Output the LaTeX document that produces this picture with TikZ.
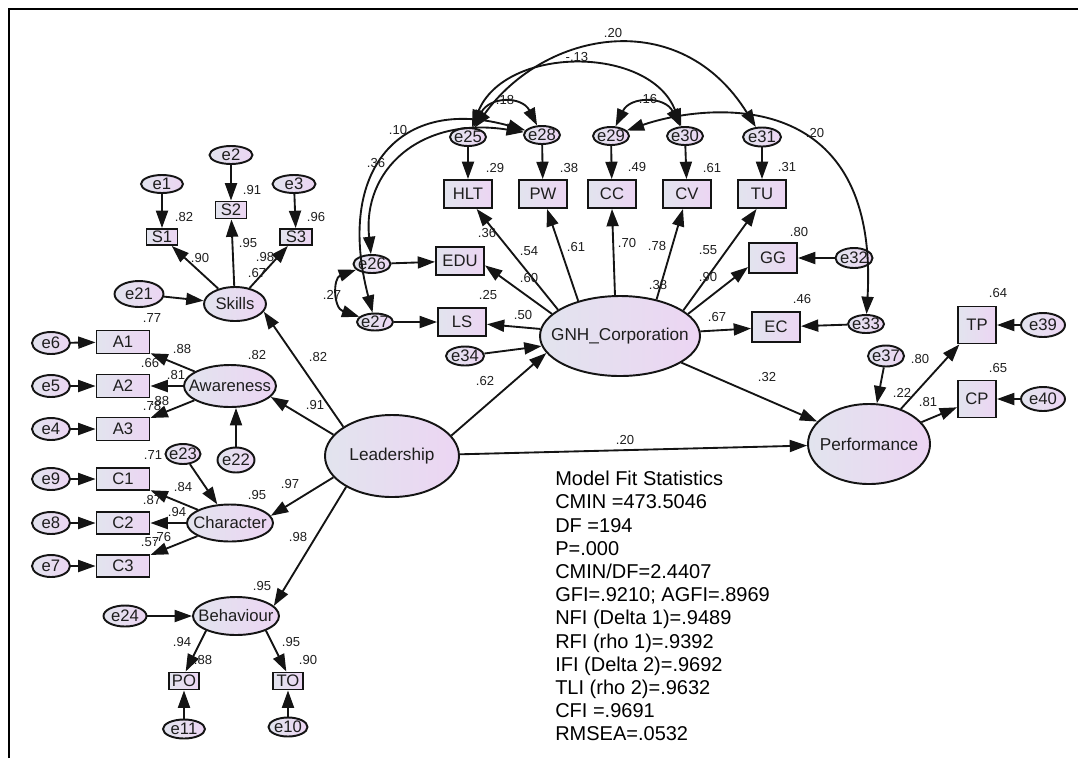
\documentclass[tikz,border=0pt]{standalone}
\usepackage{fontspec}
\setmainfont{Liberation Sans}
\usetikzlibrary{arrows.meta,shapes.geometric}
\definecolor{fa}{RGB}{226,228,238}
\definecolor{fb}{RGB}{236,213,243}
\definecolor{bd}{RGB}{20,20,20}
\definecolor{tx}{RGB}{30,30,30}
\newcommand{\cz}[1]{\makebox[0pt]{#1}}
\begin{document}
\begin{tikzpicture}[x=0.75pt,y=-0.75pt,
 every node/.style={inner sep=0pt},
 sz/.style 2 args={minimum width=#1*0.75pt, minimum height=#2*0.75pt},
 base/.style={draw=bd, line width=1.45pt, left color=fa, right color=fb, text=tx, font=\fontsize{12.5}{14}\selectfont},
 lat/.style={base, ellipse},
 obs/.style={base, rectangle},
 lb/.style={font=\fontsize{9.8}{11}\selectfont, text=tx},
 arr/.style={draw=bd, line width=1.4pt, -{Triangle[length=13pt,width=9pt]}},
 cov/.style={draw=bd, line width=1.4pt, {Triangle[length=13pt,width=9pt]}-{Triangle[length=13pt,width=9pt]}},
]
\useasboundingbox (0,0) rectangle (1078,758);
\draw[line width=1pt] (9,758) -- (9,9) -- (1078,9);

% ---------- Skills ----------
\node[lat,sz={42}{18}] (e1) at (162,184) {\cz{e1}};
\node[lat,sz={43}{18}] (e2) at (231,155) {\cz{e2}};
\node[lat,sz={43}{18}] (e3) at (294,184) {\cz{e3}};
\node[obs,sz={31}{16}] (S1) at (162,237) {S1};
\node[obs,sz={31}{17}] (S2) at (231,210) {S2};
\node[obs,sz={32}{16}] (S3) at (296,237) {S3};
\node[lat,sz={62}{34}] (Skills) at (235,304) {\cz{Skills}};
\node[lat,sz={49}{26}] (e21) at (139,294) {\cz{e21}};

% ---------- Awareness ----------
\node[lat,sz={38}{22}] (e6) at (51,343) {\cz{e6}};
\node[lat,sz={38}{22}] (e5) at (51,386) {\cz{e5}};
\node[lat,sz={38}{22}] (e4) at (51,429) {\cz{e4}};
\node[obs,sz={53}{23}] (A1) at (123,342) {A1};
\node[obs,sz={53}{23}] (A2) at (123,386) {A2};
\node[obs,sz={53}{23}] (A3) at (123,429) {A3};
\node[lat,sz={92}{42}] (Awareness) at (230,386) {\cz{Awareness}};
\node[lat,sz={37}{25}] (e22) at (236,460) {\cz{e22}};

% ---------- Character ----------
\node[lat,sz={35}{20}] (e23) at (183,454) {\cz{e23}};
\node[lat,sz={38}{22}] (e9) at (51,479) {\cz{e9}};
\node[lat,sz={38}{22}] (e8) at (51,523) {\cz{e8}};
\node[lat,sz={38}{22}] (e7) at (51,566) {\cz{e7}};
\node[obs,sz={53}{22}] (C1) at (123,479) {C1};
\node[obs,sz={53}{22}] (C2) at (123,523) {C2};
\node[obs,sz={53}{22}] (C3) at (123,566) {C3};
\node[lat,sz={86}{37}] (Character) at (230,523) {\cz{Character}};

% ---------- Behaviour ----------
\node[lat,sz={86}{38}] (Behaviour) at (236,616) {\cz{Behaviour}};
\node[lat,sz={43}{21}] (e24) at (125,616) {\cz{e24}};
\node[obs,sz={30}{17}] (PO) at (184,681) {PO};
\node[obs,sz={30}{17}] (TO) at (288,681) {TO};
\node[lat,sz={42}{19}] (e11) at (184,729) {\cz{e11}};
\node[lat,sz={39}{19}] (e10) at (288,727) {\cz{e10}};

% ---------- Leadership ----------
\node[lat,sz={134}{82},font=\fontsize{12.9}{15}\selectfont] (Leadership) at (392,456) {\cz{Leadership}};

% ---------- GNH ----------
\node[lat,sz={160}{80},font=\fontsize{12.9}{15}\selectfont] (GNH) at (620,336) {\cz{GNH\_Corporation}};
\node[obs,sz={48}{28}] (HLT) at (468,194) {HLT};
\node[obs,sz={48}{28}] (PW) at (543,194) {PW};
\node[obs,sz={48}{28}] (CC) at (612,194) {CC};
\node[obs,sz={48}{28}] (CV) at (687,194) {CV};
\node[obs,sz={48}{28}] (TU) at (762,194) {TU};
\node[obs,sz={48}{28}] (EDU) at (460,261) {EDU};
\node[obs,sz={48}{28}] (LS) at (462,322) {LS};
\node[obs,sz={48}{30}] (GG) at (773,258) {GG};
\node[obs,sz={48}{30}] (EC) at (776,327) {EC};
\node[lat,sz={36}{18}] (e25) at (468,137) {\cz{e25}};
\node[lat,sz={36}{18}] (e28) at (542,135) {\cz{e28}};
\node[lat,sz={36}{18}] (e29) at (611,136) {\cz{e29}};
\node[lat,sz={36}{18}] (e30) at (685,136) {\cz{e30}};
\node[lat,sz={38}{19}] (e31) at (762,137) {\cz{e31}};
\node[lat,sz={37}{18}] (e26) at (372,264) {\cz{e26}};
\node[lat,sz={36}{17}] (e27) at (375,322) {\cz{e27}};
\node[lat,sz={37}{20}] (e32) at (854,258) {\cz{e32}};
\node[lat,sz={36}{18}] (e33) at (866,324) {\cz{e33}};
\node[lat,sz={38}{19}] (e34) at (465,356) {\cz{e34}};

% ---------- Performance ----------
\node[lat,sz={122}{80},font=\fontsize{12.9}{15}\selectfont] (Performance) at (869,444) {\cz{Performance}};
\node[obs,sz={38}{37}] (TP) at (977,325) {TP};
\node[obs,sz={38}{37}] (CP) at (977,399) {CP};
\node[lat,sz={44}{24}] (e39) at (1043,325) {\cz{e39}};
\node[lat,sz={44}{24}] (e40) at (1043,399) {\cz{e40}};
\node[lat,sz={36}{21}] (e37) at (886,356) {\cz{e37}};

% ---------- paths ----------
\draw[arr] (e1) -- (S1);
\draw[arr] (e2) -- (S2);
\draw[arr] (e3) -- (S3);
\draw[arr] (Skills) -- (S1);
\draw[arr] (Skills) -- (S2);
\draw[arr] (Skills) -- (S3);
\draw[arr] (e21) -- (Skills);

\draw[arr] (e6) -- (A1);
\draw[arr] (e5) -- (A2);
\draw[arr] (e4) -- (A3);
\draw[arr] (Awareness) -- (A1);
\draw[arr] (Awareness) -- (A2);
\draw[arr] (Awareness) -- (A3);
\draw[arr] (e22) -- (e22 |- Awareness.south);

\draw[arr] (e9) -- (C1);
\draw[arr] (e8) -- (C2);
\draw[arr] (e7) -- (C3);
\draw[arr] (Character) -- (C1);
\draw[arr] (Character) -- (C2);
\draw[arr] (Character) -- (C3);
\draw[arr] (e23) -- (Character);

\draw[arr] (e24) -- (Behaviour);
\draw[arr] (Behaviour.206) -- (PO.80);
\draw[arr] (Behaviour.334) -- (TO.100);
\draw[arr] (e11) -- (PO);
\draw[arr] (e10) -- (TO);

\draw[arr] (Leadership.149) -- (Skills.345);
\draw[arr] (Leadership.160) -- (Awareness.345);
\draw[arr] (Leadership.200) -- (Character.10);
\draw[arr] (Leadership.214) -- (Behaviour.15);
\draw[arr] (Leadership.19) -- (GNH.193);
\draw[arr] (Leadership) -- (Performance);
\draw[arr] (GNH) -- (Performance);
\draw[arr] (e34) -- (GNH);

\draw[arr] (GNH.157) -- (HLT.300);
\draw[arr] (GNH.140) -- (PW.285);
\draw[arr] (GNH.97) -- (CC.south);
\draw[arr] (GNH.45) -- (CV.255);
\draw[arr] (GNH.22) -- (TU.250);
\draw[arr] (GNH.18) -- (GG.200);
\draw[arr] (GNH) -- (EC);
\draw[arr] (GNH.162) -- (EDU.350);
\draw[arr] (GNH) -- (LS);

\draw[arr] (e25) -- (HLT);
\draw[arr] (e28) -- (PW);
\draw[arr] (e29) -- (CC);
\draw[arr] (e30) -- (CV);
\draw[arr] (e31) -- (TU);
\draw[arr] (e26) -- (EDU);
\draw[arr] (e27) -- (LS);
\draw[arr] (e32) -- (GG);
\draw[arr] (e33) -- (EC);

\draw[arr] (Performance) -- (TP);
\draw[arr] (Performance) -- (CP);
\draw[arr] (e37) -- (Performance);
\draw[arr] (e39) -- (TP);
\draw[arr] (e40) -- (CP);

% ---------- covariances ----------
\draw[cov] (e25) .. controls (545,30) and (680,5) .. (e31);
\draw[cov] (e25) .. controls (505,45) and (650,45) .. (e30);
\draw[cov] (e25) .. controls (490,96) and (522,96) .. (e28);
\draw[cov] (e29) .. controls (630,96) and (665,96) .. (e30);
\draw[cov] (e29) .. controls (700,105) and (880,80) .. (e33);
\draw[cov] (e27) .. controls (335,170) and (400,95) .. (e28);
\draw[cov] (e26) .. controls (362,170) and (420,116) .. (e28);
\draw[cov] (e26) .. controls (333,278) and (333,308) .. (e27);

% ---------- labels ----------
\node[lb] (l1) at (184,217) {.82};
\node[lb] (l2) at (252,190) {.91};
\node[lb] (l3) at (316,217) {.96};
\node[lb] (l4) at (248,243) {.95};
\node[lb] (l5) at (200,258) {.90};
\node[lb] (l6) at (265,257) {.98};
\node[lb] (l7) at (257,273) {.67};
\node[lb] (l8) at (152,318) {.77};
\node[lb] (l9) at (182,349) {.88};
\node[lb] (l10) at (257,355) {.82};
\node[lb] (l11) at (150,363) {.66};
\node[lb] (l12) at (176,375) {.81};
\node[lb] (l13) at (152,406) {.78};
\node[lb] (l14) at (160,401) {.88};
\node[lb] (l15) at (318,357) {.82};
\node[lb] (l16) at (315,405) {.91};
\node[lb] (l17) at (153,455) {.71};
\node[lb] (l18) at (183,487) {.84};
\node[lb] (l19) at (152,500) {.87};
\node[lb] (l20) at (177,512) {.94};
\node[lb] (l21) at (257,495) {.95};
\node[lb] (l22) at (290,484) {.97};
\node[lb] (l23) at (150,542) {.57};
\node[lb] (l24) at (162,537) {.76};
\node[lb] (l25) at (298,537) {.98};
\node[lb] (l26) at (262,586) {.95};
\node[lb] (l27) at (182,642) {.94};
\node[lb] (l28) at (203,660) {.88};
\node[lb] (l29) at (291,642) {.95};
\node[lb] (l30) at (308,660) {.90};
\node[lb] (l31) at (485,381) {.62};
\node[lb] (l32) at (495,168) {.29};
\node[lb] (l33) at (569,168) {.38};
\node[lb] (l34) at (637,167) {.49};
\node[lb] (l35) at (712,168) {.61};
\node[lb] (l36) at (787,167) {.31};
\node[lb] (l37) at (487,233) {.36};
\node[lb] (l38) at (529,251) {.54};
\node[lb] (l39) at (576,247) {.61};
\node[lb] (l40) at (627,243) {.70};
\node[lb] (l41) at (657,246) {.78};
\node[lb] (l42) at (708,250) {.55};
\node[lb] (l43) at (708,277) {.90};
\node[lb] (l44) at (658,285) {.38};
\node[lb] (l45) at (529,278) {.60};
\node[lb] (l46) at (488,295) {.25};
\node[lb] (l47) at (523,315) {.50};
\node[lb] (l48) at (717,317) {.67};
\node[lb] (l49) at (799,232) {.80};
\node[lb] (l50) at (802,299) {.46};
\node[lb] (l51) at (767,377) {.32};
\node[lb] (l52) at (625,440) {.20};
\node[lb] (l53) at (902,393) {.22};
\node[lb] (l54) at (920,359) {.80};
\node[lb] (l55) at (928,402) {.81};
\node[lb] (l56) at (998,293) {.64};
\node[lb] (l57) at (998,368) {.65};
\node[lb] (l58) at (613,33) {.20};
\node[lb] (l59) at (577,57) {-.13};
\node[lb] (l60) at (505,100) {.18};
\node[lb] (l61) at (648,99) {.16};
\node[lb] (l62) at (815,133) {.20};
\node[lb] (l63) at (398,130) {.10};
\node[lb] (l64) at (376,163) {.36};
\node[lb] (l65) at (332,295) {.27};

% ---------- fit statistics ----------
\node[anchor=north west, align=left, font=\fontsize{15}{17.4}\selectfont, text=black] (fit) at (555,471)
{Model Fit Statistics\\CMIN =473.5046\\DF =194\\P=.000\\CMIN/DF=2.4407\\GFI=.9210; AGFI=.8969\\NFI (Delta 1)=.9489\\RFI (rho 1)=.9392\\IFI (Delta 2)=.9692\\TLI (rho 2)=.9632\\CFI =.9691\\RMSEA=.0532};
\end{tikzpicture}
\end{document}
